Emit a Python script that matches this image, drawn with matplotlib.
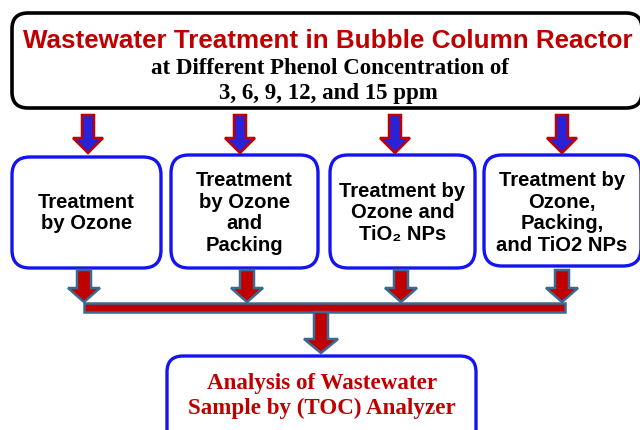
import matplotlib
matplotlib.use("Agg")
import matplotlib.pyplot as plt
from matplotlib.patches import FancyBboxPatch, FancyArrow, Rectangle

# texts of the flowchart
title = "Wastewater Treatment in Bubble Column Reactor"
subtitle = ["at Different Phenol Concentration of", "3, 6, 9, 12, and 15 ppm"]
steps = [
    "Treatment\nby Ozone",
    "Treatment\nby Ozone\nand\nPacking",
    "Treatment by\nOzone and\nTiO\u2082 NPs",
    "Treatment by\nOzone,\nPacking,\nand TiO2 NPs",
]
final = "Analysis of Wastewater\nSample by (TOC) Analyzer"

RED = "#C00000"
BLUE = "#1414F0"
ARROW_BLUE = "#2A22D8"
STEEL = "#3A6A92"
SANS = ["Liberation Sans", "DejaVu Sans"]
SERIF = ["Liberation Serif", "DejaVu Serif"]

fig = plt.figure(figsize=(6.4, 4.3), dpi=100)
ax = fig.add_axes([0, 0, 1, 1])
ax.set_xlim(0, 640)
ax.set_ylim(430, 0)
ax.axis("off")


def box(x0, y0, x1, y1, color, lw=2.4, r=14):
    p = FancyBboxPatch((x0, y0), x1 - x0, y1 - y0,
                       boxstyle=f"round,pad=0,rounding_size={r}",
                       fc="white", ec=color, lw=lw, zorder=2)
    ax.add_patch(p)


def arrow(x, y0, y1, fc, ec, w=12, hw=30, hl=15):
    a = FancyArrow(x, y0, 0, y1 - y0, width=w, head_width=hw, head_length=hl,
                   length_includes_head=True, fc=fc, ec=ec, lw=1.8, zorder=3)
    ax.add_patch(a)


# top box
box(12, 13, 642, 108, "black", lw=2.6, r=16)
ax.text(328, 41, title, color=RED, fontsize=18.7, fontweight="bold",
        family=SANS, ha="center", va="center", zorder=4)
ax.text(330, 69, subtitle[0], color="black", fontsize=16.5, fontweight="bold",
        family=SERIF, ha="center", va="center", zorder=4)
ax.text(328, 93, subtitle[1], color="black", fontsize=16.5, fontweight="bold",
        family=SERIF, ha="center", va="center", zorder=4)

# middle boxes
boxes = [(12, 157, 161, 268), (171, 155, 318, 268), (330, 155, 475, 268), (484, 155, 641, 266)]
in_x = [88, 240, 395, 562]
out_x = [84, 247, 401, 562]
for (x0, y0, x1, y1), xi, xo, s in zip(boxes, in_x, out_x, steps):
    box(x0, y0, x1, y1, BLUE, r=18)
    arrow(xi, 115, 153, ARROW_BLUE, RED)
    arrow(xo, 270, 302, RED, STEEL, w=14, hw=32, hl=14)
    cx = (x0 + min(x1, 640)) / 2
    ax.text(cx, 213, s, color="black", fontsize=14.6, fontweight="bold",
            family=SANS, ha="center", va="center", linespacing=1.16, zorder=4)

# collecting bar
ax.add_patch(Rectangle((84, 303), 481, 9, fc=RED, ec=STEEL, lw=1.8, zorder=3))
arrow(321, 312, 353, RED, STEEL, w=14, hw=34, hl=14)

# bottom box
box(167, 356, 476, 450, BLUE, r=16)
ax.text(322, 396, final, color=RED, fontsize=16.6, fontweight="bold",
        family=SERIF, ha="center", va="center", linespacing=1.2, zorder=4)

fig.savefig("out.png", dpi=100)
